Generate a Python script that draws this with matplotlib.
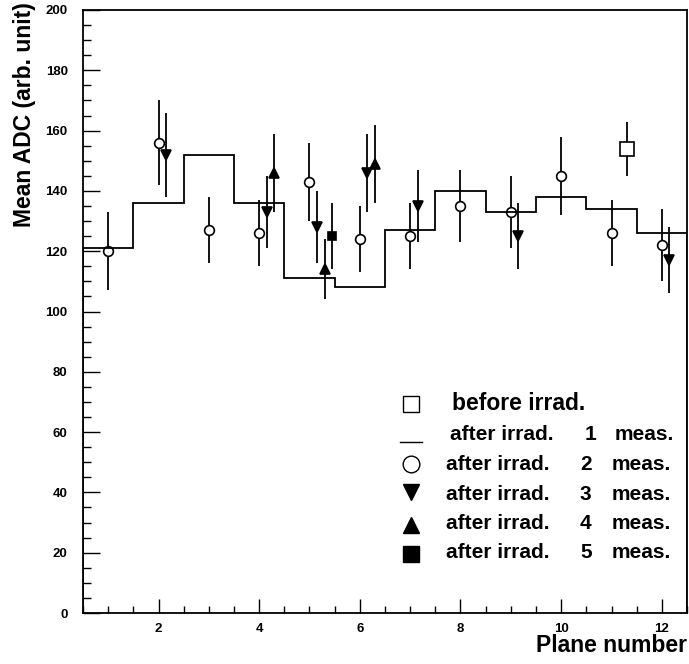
import matplotlib
matplotlib.use("Agg")
import matplotlib.pyplot as plt
from matplotlib.ticker import MultipleLocator

plt.rcParams['font.family'] = ['Liberation Sans', 'DejaVu Sans']
plt.rcParams['font.weight'] = 'bold'

# Plane numbers
planes = [1, 2, 3, 4, 5, 6, 7, 8, 9, 10, 11, 12]

# After irradiation, 1st measurement (histogram)
meas1 = [121, 136, 152, 136, 111, 108, 127, 140, 133, 138, 134, 126]

# After irradiation, 2nd measurement (open circles)
meas2 = [120, 156, 127, 126, 143, 124, 125, 135, 133, 145, 126, 122]
meas2_err = [13, 14, 11, 11, 13, 11, 11, 12, 12, 13, 11, 12]

# After irradiation, 3rd measurement (down triangles)
meas3_planes = [2, 4, 5, 6, 7, 9, 12]
meas3 = [152, 133, 128, 146, 135, 125, 117]
meas3_err = [14, 12, 12, 13, 12, 11, 11]

# After irradiation, 4th measurement (up triangles)
meas4_planes = [4, 5, 6]
meas4 = [146, 114, 149]
meas4_err = [13, 10, 13]

# After irradiation, 5th measurement (filled square)
meas5_planes = [5]
meas5 = [125]
meas5_err = [11]

# Before irradiation (open square)
before_x = [11.3]
before = [154]
before_err = [9]

legend_state = ["before irrad.", "after irrad.", "after irrad.",
                "after irrad.", "after irrad.", "after irrad."]
legend_count = ["", "1", "2", "3", "4", "5"]

W, H = 689, 664
AX_L, AX_B, AX_W, AX_H = 83, 51, 604, 603

fig = plt.figure(figsize=(W / 100, H / 100), dpi=100)
ax = fig.add_axes([AX_L / W, AX_B / H, AX_W / W, AX_H / H])

lw = 1.3
# histogram of first measurement
edges = [p - 0.5 for p in planes] + [planes[-1] + 0.5]
ax.stairs(meas1, edges, color='black', linewidth=lw, zorder=4)


def points(x, y, e, marker, ms, face, shift=0.0):
    xs = [v + shift for v in x]
    ax.errorbar(xs, y, yerr=e, fmt='none', ecolor='black', elinewidth=lw,
                capsize=0, zorder=2)
    ax.plot(xs, y, linestyle='none', marker=marker, markersize=ms,
            markerfacecolor=face, markeredgecolor='black',
            markeredgewidth=1.2, zorder=3)


points(planes, meas2, meas2_err, 'o', 7, 'white')
points(meas3_planes, meas3, meas3_err, 'v', 6.5, 'black', 0.15)
points(meas4_planes, meas4, meas4_err, '^', 6.5, 'black', 0.30)
points(meas5_planes, meas5, meas5_err, 's', 6, 'black', 0.45)
points(before_x, before, before_err, 's', 9.5, 'white')

ax.set_xlim(0.5, 12.5)
ax.set_ylim(0, 200)
ax.xaxis.set_major_locator(MultipleLocator(2))
ax.xaxis.set_minor_locator(MultipleLocator(0.5))
ax.yaxis.set_major_locator(MultipleLocator(20))
ax.yaxis.set_minor_locator(MultipleLocator(5))
ax.tick_params(which='both', direction='in', top=False, right=False,
               width=1.0, labelsize=9.5)
ax.tick_params(axis='y', which='major', length=12, pad=11)
ax.tick_params(axis='y', which='minor', length=6)
ax.tick_params(axis='x', which='major', length=10, pad=7.5)
ax.tick_params(axis='x', which='minor', length=5)
for lab in ax.get_xticklabels() + ax.get_yticklabels():
    lab.set_fontweight('bold')
for s in ax.spines.values():
    s.set_linewidth(1.3)

fig.text(687 / W, 1 - 652 / H, "Plane number", ha='right', va='baseline',
         fontsize=16.5, fontweight='bold')
fig.text(25 / W, 1 - 2 / H, "Mean ADC (arb. unit)", ha='center', va='top',
         rotation=90, fontsize=16.5, fontweight='bold')


# legend block, placed in axes-fraction units from pixel offsets
def fx(px):
    return (px - AX_L) / AX_W


def fy(py):
    return (H - py - AX_B) / AX_H


tr = ax.transAxes
mark_px = 411
mark_y = [404, 441.5, 464, 492, 525, 554]
base_y = [410.5, 440.5, 470, 499.5, 529, 558.5]
state_px = [451.5, 450.5, 446, 446, 446, 446]
count_px = [None, 585, 580, 580, 580, 580]
meas_px = [None, 615, 612, 612, 612, 612]
styles = [('s', 11.5, 'white'), None, ('o', 12, 'white'),
          ('v', 11.5, 'black'), ('^', 11.5, 'black'), ('s', 11, 'black')]
for i, st in enumerate(styles):
    if st is None:
        ax.plot([fx(mark_px - 11), fx(mark_px + 11)],
                [fy(mark_y[i]), fy(mark_y[i])], transform=tr,
                color='black', linewidth=1.0, clip_on=False)
    else:
        ax.plot([fx(mark_px)], [fy(mark_y[i])], transform=tr,
                linestyle='none', marker=st[0], markersize=st[1],
                markerfacecolor=st[2], markeredgecolor='black',
                markeredgewidth=1.0)
    size = 16.5 if i == 0 else 15
    ax.text(fx(state_px[i]), fy(base_y[i]), legend_state[i], transform=tr,
            ha='left', va='baseline', fontsize=size, fontweight='bold')
    if legend_count[i]:
        ax.text(fx(count_px[i]), fy(base_y[i]), legend_count[i], transform=tr,
                ha='left', va='baseline', fontsize=size, fontweight='bold')
        ax.text(fx(meas_px[i]), fy(base_y[i]), "meas.", transform=tr,
                ha='left', va='baseline', fontsize=size, fontweight='bold')

fig.savefig("out.png", dpi=100)
